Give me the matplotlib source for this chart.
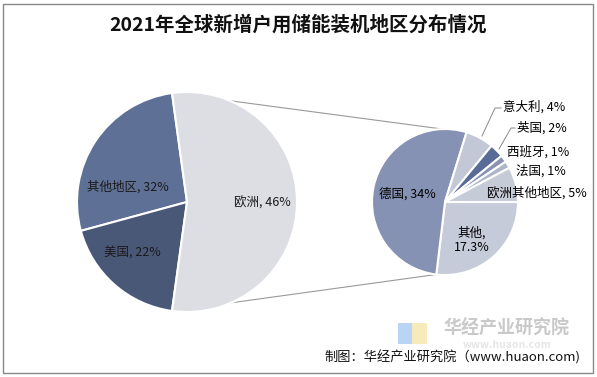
import numpy as np
import matplotlib
matplotlib.use("Agg")
import matplotlib.pyplot as plt
from matplotlib.patches import Rectangle

plt.rcParams['font.family'] = ['Noto Sans CJK SC', 'DejaVu Sans']

# 主饼图（欧洲 = 右侧子饼图之和）
main_labels = ["其他地区, 32%", "美国, 22%", "欧洲, 46%"]
main_values = [32, 22, 64.3]
main_colors = ["#5f7096", "#4a5878", "#dcdee4"]

# 子饼图：欧洲细分 + 其他
sub_names = ["其他", "德国", "意大利", "英国", "西班牙", "法国", "欧洲其他地区"]
sub_values = [17.3, 34, 4, 2, 1, 1, 5]
sub_texts = ["其他,\n17.3%", "德国, 34%", "意大利, 4%", "英国, 2%", "西班牙, 1%", "法国, 1%", "欧洲其他地区, 5%"]
sub_colors = ["#c6cbd9", "#8692b3", "#c3c8d6", "#5a6b98", "#8893b4", "#aeb6cc", "#c6cbd8"]

W, H = 597, 377
fig = plt.figure(figsize=(W / 100, H / 100), dpi=100)
ax = fig.add_axes([0, 0, 1, 1])

def py(y):
    # 像素坐标 -> 数据坐标
    return H - y

c1, r1 = (187, py(202)), 110
c2, r2 = (445, py(202)), 73
start1 = main_values[2] / sum(main_values) * 180

ax.pie(main_values, colors=main_colors, startangle=start1, counterclock=True,
       center=c1, radius=r1, frame=True,
       wedgeprops=dict(edgecolor="white", linewidth=1.5))
ax.pie(sub_values, colors=sub_colors, startangle=0, counterclock=False,
       center=c2, radius=r2, frame=True,
       wedgeprops=dict(edgecolor="white", linewidth=1.5))

# 连接线
a_top = np.radians(start1)
a_bot = np.radians(-start1)
sub_split = -(sub_values[0] + sub_values[1]) / sum(sub_values) * 360
b_top = np.radians(sub_split + 360)
b_bot = np.radians(-sub_values[0] / sum(sub_values) * 360)
for a, b in [(a_top, b_top), (a_bot, b_bot)]:
    ax.plot([c1[0] + r1 * np.cos(a), c2[0] + r2 * np.cos(b)],
            [c1[1] + r1 * np.sin(a), c2[1] + r2 * np.sin(b)],
            color="#9a9a9a", lw=0.8, zorder=0)

fs = 9
# 主饼图标签
ax.text(128, py(187), main_labels[0], ha="center", va="center", fontsize=fs, color="#1a1a1a")
ax.text(132, py(253), main_labels[1], ha="center", va="center", fontsize=fs, color="#1a1a1a")
ax.text(262, py(203), main_labels[2], ha="center", va="center", fontsize=fs, color="#1a1a1a")

# 子饼图标签
ax.text(472, py(240), sub_texts[0], ha="center", va="center", fontsize=fs, linespacing=1.2)
ax.text(407, py(194), sub_texts[1], ha="center", va="center", fontsize=fs)
ax.text(503, py(107), sub_texts[2], ha="left", va="center", fontsize=fs)
ax.text(517, py(128), sub_texts[3], ha="left", va="center", fontsize=fs)
ax.text(507, py(152), sub_texts[4], ha="left", va="center", fontsize=fs)
ax.text(516, py(171), sub_texts[5], ha="left", va="center", fontsize=fs)
ax.text(487, py(193), sub_texts[6], ha="left", va="center", fontsize=fs)

# 引导线
ax.plot([482, 495, 501], [py(136), py(108), py(108)], color="#888888", lw=0.7)
ax.plot([499, 511, 515], [py(149), py(128), py(128)], color="#888888", lw=0.7)

# 标题
ax.text(W / 2, py(25), "2021年全球新增户用储能装机地区分布情况", ha="center", va="center",
        fontsize=14, fontweight="bold", color="#111111")

# 水印
ax.add_patch(Rectangle((398, py(344)), 14, 21, color="#9cc3f0", alpha=0.7, lw=0))
ax.add_patch(Rectangle((412, py(344)), 15, 21, color="#f5e3a0", alpha=0.7, lw=0))
ax.text(507, py(328), "华经产业研究院", ha="center", va="center", fontsize=13,
        fontweight="bold", color="#c9c9c9")
ax.text(507, py(345), "www.huaon.com", ha="center", va="center", fontsize=7.5,
        fontweight="bold", color="#e6e6e6")

# 来源
ax.text(452, py(357), "制图：华经产业研究院（www.huaon.com)", ha="center", va="center",
        fontsize=9.5, color="#111111")

# 外边框
ax.add_patch(Rectangle((3, py(373)), 590, 369, fill=False, edgecolor="#888888", lw=1))

ax.set_xlim(0, W)
ax.set_ylim(0, H)
ax.set_aspect("equal")
ax.axis("off")

fig.savefig("out.png", dpi=100)
